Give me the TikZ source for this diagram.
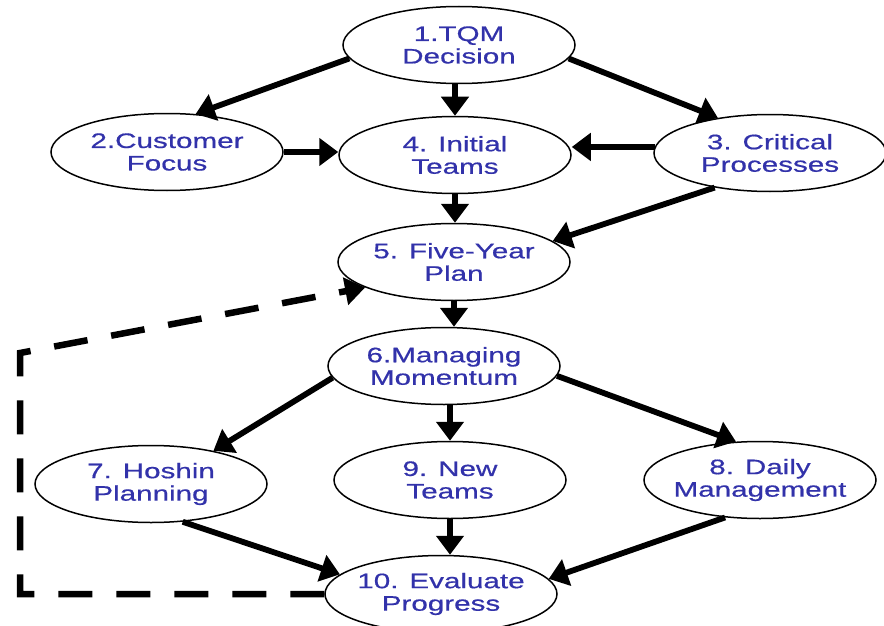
\documentclass[tikz,border=0pt]{standalone}
\usepackage{fontspec}
\setmainfont[FakeStretch=1.41,FakeBold=0.6]{Liberation Sans}
\usetikzlibrary{arrows.meta,shapes.geometric}
\definecolor{txtblue}{RGB}{50,50,170}
\begin{document}
\begin{tikzpicture}[x=1pt,y=-1pt,
  stage/.style={draw=black, line width=1.5pt, ellipse, minimum width=232pt, minimum height=77pt,
    inner xsep=-6pt, inner ysep=0pt, align=center, text=txtblue,
    font=\fontsize{21}{22.5}\selectfont},
  flow/.style={line width=5.8pt, -{Triangle[length=19pt,width=27pt]}},
  loopback/.style={line width=6.5pt, dash pattern=on 34pt off 24pt, line join=miter,
    -{Triangle[length=20pt,width=27pt]}}]
\clip (0,0) rectangle (884,626);
\node[stage] (n1) at (459,45) {1.TQM\\Decision};
\node[stage] (n2) at (167,152) {2.Customer\\Focus};
\node[stage] (n4) at (455,155) {4. Initial\\Teams};
\node[stage] (n3) at (770,153) {3. Critical\\Processes};
\node[stage] (n5) at (454,262) {5. Five-Year\\Plan};
\node[stage] (n6) at (444,366) {6.Managing\\Momentum};
\node[stage] (n7) at (151,484) {7. Hoshin\\Planning};
\node[stage] (n9) at (450,480) {9. New\\Teams};
\node[stage] (n8) at (760,480) {8. Daily\\Management};
\node[stage] (n10) at (441,594) {10. Evaluate\\Progress};
\coordinate (c2) at (20,353);

\draw[flow] (n1.187) -- (n2.53);
\draw[flow] (n4.north |- n1.south) -- (n4.north);
\draw[flow] (n1.353) -- (n3.146);
\draw[flow] (n2.east) -- (n2.east -| n4.west);
\draw[flow] (n3.177) -- (n3.177 -| n4.east);
\draw[flow] (n4.south) -- (n4.south |- n5.north);
\draw[flow] (n3.212) -- (n5.12);
\draw[flow] (n5.south) -- (n5.south |- n6.north);
\draw[flow] (n6.186) -- (n7.28);
\draw[flow] (n9.north |- n6.south) -- (n9.north);
\draw[flow] (n6.355) -- (n8.122);
\draw[flow] (n7.310) -- (n10.169);
\draw[flow] (n9.south) -- (n9.south |- n10.north);
\draw[flow] (n8.227) -- (n10.8);
\draw[loopback] (n10.west) -- (n10.west -| c2) -- (c2) -- (n5.196);
\end{tikzpicture}
\end{document}
